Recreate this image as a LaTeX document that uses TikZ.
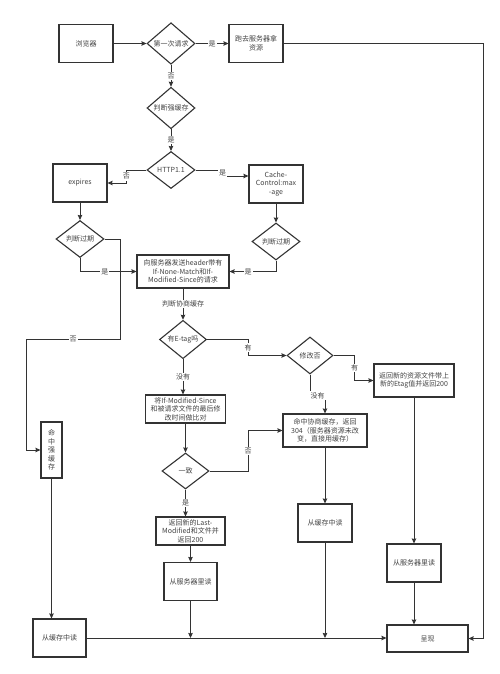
\documentclass[tikz,border=0pt]{standalone}
\usepackage{fontspec}
\setmainfont{Noto Sans CJK SC}
\usetikzlibrary{arrows.meta,shapes.geometric,backgrounds}
\definecolor{linegray}{HTML}{333333}
\definecolor{textgray}{HTML}{444444}

\begin{document}
\begin{tikzpicture}[x=1pt,y=-1pt,
    >={Stealth[length=5pt,width=4.5pt,inset=0.5pt]},
    font=\fontsize{7}{8.6}\selectfont,
    box/.style={draw=linegray,line width=1.1pt,fill=white,text=textgray,align=center,
                inner sep=0pt,minimum width=54,minimum height=38},
    ask/.style={diamond,draw=linegray,line width=1.1pt,fill=white,text=textgray,
                inner sep=0pt,minimum width=48,minimum height=37},
    lab/.style={fill=white,text=textgray,inner sep=1pt},
    conn/.style={draw=linegray,line width=0.9pt,->}]
\useasboundingbox[fill=white] (0,0) rectangle (500,674);

% nodes
\node[box] (browser) at (86,43.5) {浏览器};
\node[ask] (first) at (171,43.5) {第一次请求};
\node[box] (fetch) at (256,43.5) {跑去服务器拿\\资源};
\node[ask,minimum height=38] (strong) at (171,108) {判断强缓存};
\node[ask] (http) at (171,170) {HTTP1.1};
\node[box] (expires) at (80,183) {expires};
\node[box] (maxage) at (276,184) {Cache-\\Control:max\\-age};
\node[ask] (expL) at (80,239) {判断过期};
\node[ask] (expR) at (276,241.5) {判断过期};
\node[box,minimum width=92,minimum height=33] (req) at (183,271.5) {向服务器发送header带有\\If-None-Match和If-\\Modified-Since的请求};
\node[ask,minimum width=47] (etag) at (183,339.5) {有E-tag吗};
\node[ask,minimum width=46] (modified) at (310,355.5) {修改否};
\node[box,minimum width=80,minimum height=33] (newetag) at (414,380.5) {返回新的资源文件带上\\新的Etag值并返回200};
\node[box,minimum width=80,minimum height=28] (compare) at (185.5,409) {将If-Modified-Since\\和被请求文件的最后修\\改时间做比对};
\node[box,minimum width=84,minimum height=33] (hit304) at (325,430.5) {命中协商缓存，返回\\304（服务器资源未改\\变，直接用缓存）};
\node[ask,minimum width=47,minimum height=36] (same) at (185.5,471) {一致};
\node[box,minimum width=69,minimum height=28] (lastmod) at (190.5,531) {返回新的Last-\\Modified和文件并\\返回200};
\node[box,minimum width=53] (serverL) at (190.5,581.5) {从服务器里读};
\node[box,minimum width=21,minimum height=56] (strongHit) at (51.5,450) {命\\中\\强\\缓\\存};
\node[box,minimum width=53] (cacheL) at (59.5,638) {从缓存中读};
\node[box] (cacheR) at (325,523) {从缓存中读};
\node[box] (serverR) at (414,563) {从服务器里读};
\node[box,minimum width=81,minimum height=27] (show) at (427.5,638.5) {呈现};

% straight connectors
\begin{scope}[every edge/.style={conn},every node/.style={lab}]
    \path (browser) edge (first);
    \path (first) edge node {是} (fetch);
    \path (first) edge node {否} (strong);
    \path (strong) edge node {是} (http);
    \path (expires) edge (expL);
    \path (maxage) edge (expR);
    \path (req) edge node {判断协商缓存} (etag);
    \path (etag.south) edge node {没有} (etag.south |- compare.north);
    \path (compare) edge (same);
    \path (same.south) edge node {是} (same.south |- lastmod.north);
    \path (lastmod) edge (serverL);
    \path (serverL.south) edge (serverL.south |- cacheL.east);
    \path (strongHit.south) edge (strongHit.south |- cacheL.north);
    \path (cacheL.east) edge (cacheL.east -| show.west);
    \path (hit304) edge (cacheR);
    \path (cacheR.south) edge (cacheR.south |- cacheL.east);
    \path (newetag) edge (serverR);
    \path (serverR.south) edge (serverR.south |- show.north);
\end{scope}

% elbow connectors
\draw[conn] (http.west) -- ++(-20,0) |- node[lab,pos=0.25] {否} (expires.east);
\draw[conn] (http.east) -- ++(27,0) |- node[lab,pos=0.25] {是} ([yshift=8pt]maxage.west);
\draw[conn] (expL.east) -| (120,339) -| node[lab,pos=0.25] {否} (26,450) -- (strongHit.west);
\draw[conn] (expL.south) |- node[lab,pos=0.72] {是} (req.west);
\draw[conn] (expR.south) |- node[lab,pos=0.8] {是} (req.east);
\begin{scope}[on background layer]
    \draw[conn] (expR.west) -| node[lab,pos=0.75] {否} (157,450) -- (strongHit.east);
\end{scope}
\draw[conn] (etag.east) -- ++(41,0) |- node[lab,pos=0.25] {有} (modified.west);
\draw[conn] (modified.east) -- ++(21,0) |- node[lab,pos=0.25] {有} (newetag.west);
\draw[conn] (modified.south) -- ++(0,21) -| node[lab,pos=0.25] {没有} (hit304.north);
\draw[conn] (same.east) -- ++(38.5,0) |- node[lab,pos=0.25] {否} (hit304.west);
\draw[conn] (fetch.east) -- ++(200,0) |- (show.east);
\end{tikzpicture}
\end{document}
